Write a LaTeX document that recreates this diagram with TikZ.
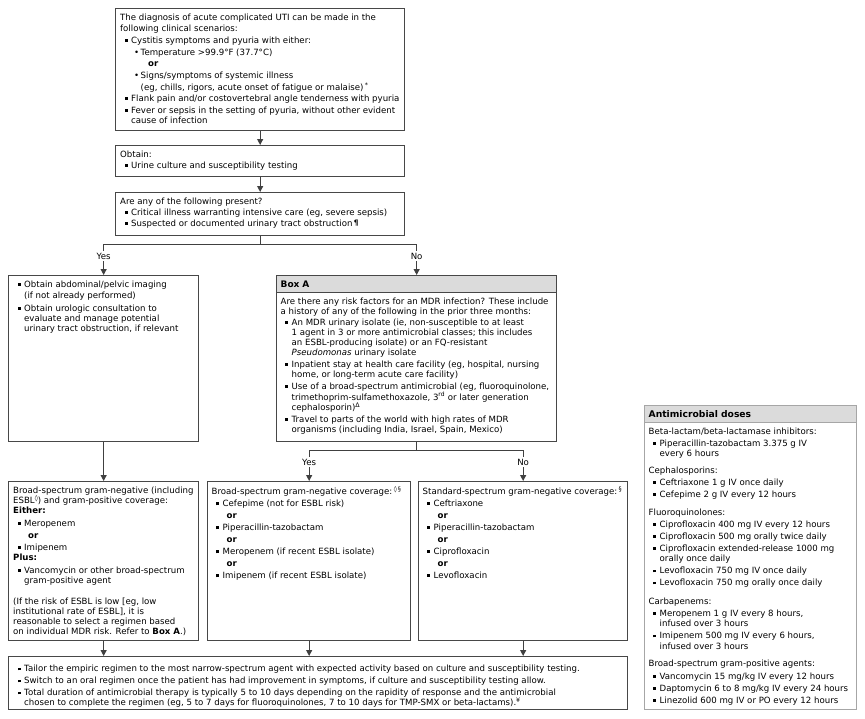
\documentclass[tikz,border=0pt]{standalone}
\usepackage{fontspec}
\setmainfont{DejaVu Sans}
\usetikzlibrary{positioning,arrows.meta,calc}

% bullets and indents for the box texts
\newcommand{\sqb}{\raisebox{1.3pt}{\rule{2.8pt}{2.8pt}}}
\newcommand{\sq}{\hspace*{4.5pt}\makebox[6.5pt][l]{\sqb}}
\newcommand{\hn}{\hspace*{11pt}}
\newcommand{\dt}{\hspace*{14pt}\makebox[6.5pt][l]{\textbullet}}
\newcommand{\hnn}{\hspace*{20.5pt}}
\newcommand{\orx}{\hspace*{28pt}\textbf{or}}
\newcommand{\orr}{\hspace*{15pt}\textbf{or}}
\newcommand{\spr}[1]{\raisebox{2.8pt}{\fontsize{6.3}{7}\selectfont #1}}

\begin{document}
\begin{tikzpicture}[x=1pt, y=-1pt,
  font=\fontsize{8.6}{10}\selectfont,
  frame/.style={draw=black!72, line width=1.3pt, anchor=north west, inner sep=0pt, fill=white},
  body/.style={anchor=north west, align=left, inner sep=0pt},
  hdr/.style={draw=black!72, line width=1.3pt, fill=black!14, anchor=north west, inner xsep=4pt, inner ysep=0pt,
    minimum height=17pt, align=left, font=\fontsize{9}{10}\selectfont\bfseries},
  conn/.style={draw=black!75, line width=1.1pt},
  lbl/.style={fill=white, inner sep=1.5pt},
  >={Triangle[length=6pt, width=6pt]}]
\fill[white] (0,0) rectangle (865,718);
\useasboundingbox (0,0) rectangle (865,718);

% top column
\node[frame, minimum width=289, minimum height=122] (diag) at (115,8) {};
\node[body] (diagtxt) at ([shift={(5,5.5)}]diag.north west) {%
The diagnosis of acute complicated UTI can be made in the\\[1pt]
following clinical scenarios:\\[2pt]
\sq Cystitis symptoms and pyuria with either:\\[2pt]
\dt Temperature >99.9°F (37.7°C)\\[1pt]
\orx\\[2pt]
\dt Signs/symptoms of systemic illness\\[2pt]
\hnn (eg, chills, rigors, acute onset of fatigue or malaise)\,\spr{*}\\[1pt]
\sq Flank pain and/or costovertebral angle tenderness with pyuria\\[2pt]
\sq Fever or sepsis in the setting of pyuria, without other evident\\
\hn cause of infection};

\node[frame, minimum width=289, minimum height=31] (obtain) at (115,145) {};
\node[body] (obtaintxt) at ([shift={(5,5.5)}]obtain.north west) {%
Obtain:\\[1pt]
\sq Urine culture and susceptibility testing};

\node[frame, minimum width=289, minimum height=43] (present) at (115,192) {};
\node[body] (presenttxt) at ([shift={(5,5.5)}]present.north west) {%
Are any of the following present?\\[1pt]
\sq Critical illness warranting intensive care (eg, severe sepsis)\\[1pt]
\sq Suspected or documented urinary tract obstruction\,\raisebox{0.8pt}{\fontsize{7.5}{8}\selectfont\bfseries ¶}};

% second row
\node[frame, minimum width=190, minimum height=166] (imaging) at (8,275) {};
\node[body] (imagingtxt) at ([shift={(5,5.5)}]imaging.north west) {%
\sq Obtain abdominal/pelvic imaging\\[1pt]
\hn (if not already performed)\\[3pt]
\sq Obtain urologic consultation to\\
\hn evaluate and manage potential\\
\hn urinary tract obstruction, if relevant};

\node[frame, minimum width=280, minimum height=166] (boxa) at (276,275) {};
\node[hdr, text width=272] (boxahdr) at (boxa.north west) {Box A};
\node[body] (boxatxt) at ([shift={(4.5,22.5)}]boxa.north west) {%
Are there any risk factors for an MDR infection? These include\\
a history of any of the following in the prior three months:\\[1pt]
\sq An MDR urinary isolate (ie, non-susceptible to at least\\
\hn 1 agent in 3 or more antimicrobial classes; this includes\\
\hn an ESBL-producing isolate) or an FQ-resistant\\
\hn \textit{Pseudomonas} urinary isolate\\[2pt]
\sq Inpatient stay at health care facility (eg, hospital, nursing\\
\hn home, or long-term acute care facility)\\[2pt]
\sq Use of a broad-spectrum antimicrobial (eg, fluoroquinolone,\\
\hn trimethoprim-sulfamethoxazole, 3\textsuperscript{rd} or later generation\\
\hn cephalosporin)\spr{Δ}\\[2pt]
\sq Travel to parts of the world with high rates of MDR\\
\hn organisms (including India, Israel, Spain, Mexico)};

% third row
\node[frame, minimum width=190, minimum height=159] (broad) at (8,481) {};
\node[body] (broadtxt) at ([shift={(5,5.5)}]broad.north west) {%
Broad-spectrum gram-negative (including\\
ESBL\spr{◊}) and gram-positive coverage:\\
\textbf{Either:}\\[3pt]
\sq Meropenem\\[2pt]
\orr\\[2pt]
\sq Imipenem\\
\textbf{Plus:}\\[3pt]
\sq Vancomycin or other broad-spectrum\\
\hn gram-positive agent\\[11pt]
(If the risk of ESBL is low [eg, low\\
institutional rate of ESBL], it is\\
reasonable to select a regimen based\\
on individual MDR risk. Refer to \textbf{Box A}.)};

\node[frame, minimum width=203, minimum height=159] (bsneg) at (207,481) {};
\node[body] (bsnegtxt) at ([shift={(4.5,5.5)}]bsneg.north west) {%
Broad-spectrum gram-negative coverage:\,\spr{◊\,§}\\[2pt]
\sq Cefepime (not for ESBL risk)\\[2pt]
\orr\\[2pt]
\sq Piperacillin-tazobactam\\[2pt]
\orr\\[2pt]
\sq Meropenem (if recent ESBL isolate)\\[2pt]
\orr\\[2pt]
\sq Imipenem (if recent ESBL isolate)};

\node[frame, minimum width=209, minimum height=159] (stdneg) at (418,481) {};
\node[body] (stdnegtxt) at ([shift={(4.5,5.5)}]stdneg.north west) {%
Standard-spectrum gram-negative coverage:\,\spr{§}\\[2pt]
\sq Ceftriaxone\\[2pt]
\orr\\[2pt]
\sq Piperacillin-tazobactam\\[2pt]
\orr\\[2pt]
\sq Ciprofloxacin\\[2pt]
\orr\\[2pt]
\sq Levofloxacin};

% last row
\node[frame, minimum width=619, minimum height=53] (tailor) at (8,656) {};
\node[body] (tailortxt) at ([shift={(5,9)}]tailor.north west) {%
\sq Tailor the empiric regimen to the most narrow-spectrum agent with expected activity based on culture and susceptibility testing.\\[2pt]
\sq Switch to an oral regimen once the patient has had improvement in symptoms, if culture and susceptibility testing allow.\\[2pt]
\sq Total duration of antimicrobial therapy is typically 5 to 10 days depending on the rapidity of response and the antimicrobial\\
\hn chosen to complete the regimen (eg, 5 to 7 days for fluoroquinolones, 7 to 10 days for TMP-SMX or beta-lactams).\spr{¥}};

% dose panel
\node[frame, draw=black!35, minimum width=212, minimum height=304] (doses) at (644,405) {};
\node[hdr, draw=black!35, text width=204, font=\fontsize{9.2}{10}\selectfont\bfseries] (doseshdr) at (doses.north west) {Antimicrobial doses};
\node[body] (dosestxt) at ([shift={(4.5,22.5)}]doses.north west) {%
Beta-lactam/beta-lactamase inhibitors:\\[2pt]
\sq Piperacillin-tazobactam 3.375 g IV\\
\hn every 6 hours\\[7pt]
Cephalosporins:\\[2pt]
\sq Ceftriaxone 1 g IV once daily\\[2pt]
\sq Cefepime 2 g IV every 12 hours\\[8pt]
Fluoroquinolones:\\[2pt]
\sq Ciprofloxacin 400 mg IV every 12 hours\\[2pt]
\sq Ciprofloxacin 500 mg orally twice daily\\[2pt]
\sq Ciprofloxacin extended-release 1000 mg\\
\hn orally once daily\\[2.5pt]
\sq Levofloxacin 750 mg IV once daily\\[2pt]
\sq Levofloxacin 750 mg orally once daily\\[9pt]
Carbapenems:\\[1.5pt]
\sq Meropenem 1 g IV every 8 hours,\\[0.5pt]
\hn infused over 3 hours\\[2pt]
\sq Imipenem 500 mg IV every 6 hours,\\[0.5pt]
\hn infused over 3 hours\\[7.5pt]
Broad-spectrum gram-positive agents:\\[2.5pt]
\sq Vancomycin 15 mg/kg IV every 12 hours\\[2pt]
\sq Daptomycin 6 to 8 mg/kg IV every 24 hours\\[2pt]
\sq Linezolid 600 mg IV or PO every 12 hours};

% connectors
\draw[conn, ->] (diag) -- (obtain);
\draw[conn, ->] (obtain) -- (present);
\coordinate (fork1) at ($(present.south)+(0,8)$);
\draw[conn] (present.south) -- (fork1);
\draw[conn, ->] (fork1) -| node[lbl, pos=0.69] {Yes} (imaging.north);
\draw[conn, ->] (fork1) -| node[lbl, pos=0.69] {No} (boxa.north);
\coordinate (fork2) at ($(boxa.south)+(0,8)$);
\draw[conn] (boxa.south) -- (fork2);
\draw[conn, ->] (fork2) -| node[lbl, pos=0.69] {Yes} (bsneg.north);
\draw[conn, ->] (fork2) -| node[lbl, pos=0.69] {No} (stdneg.north);
\draw[conn, ->] (imaging) -- (broad);
\foreach \b in {broad, bsneg, stdneg}
  \draw[conn, ->] (\b.south) -- (\b.south |- tailor.north);
\end{tikzpicture}
\end{document}
